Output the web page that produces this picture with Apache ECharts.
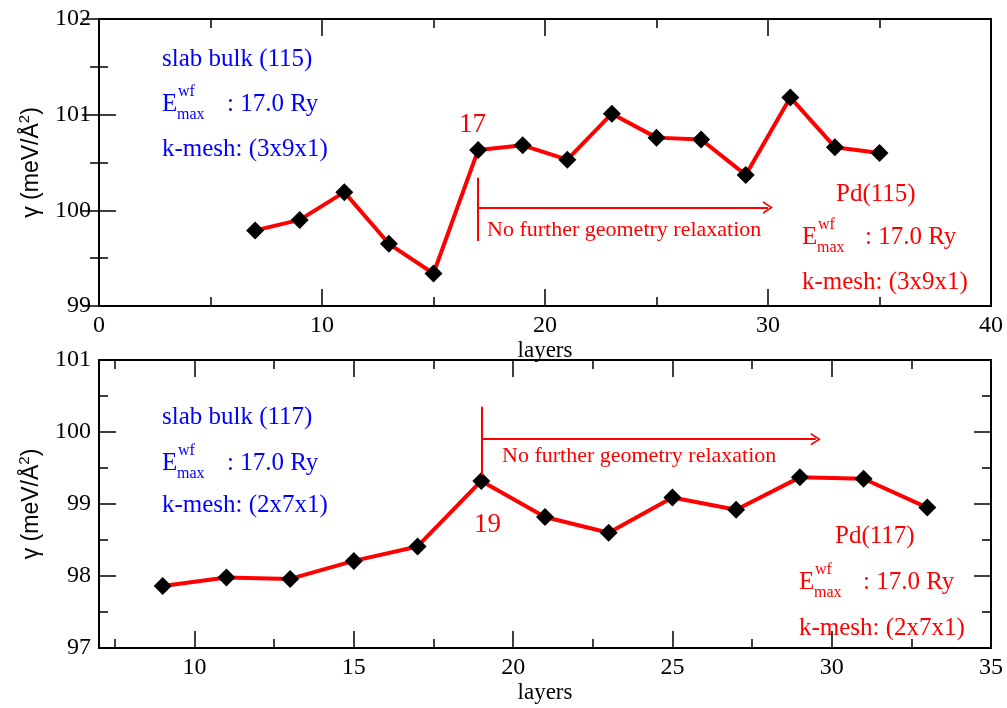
<!DOCTYPE html>
<html>
<head>
<meta charset="utf-8">
<script src="https://cdn.jsdelivr.net/npm/echarts@6/dist/echarts.min.js"></script>
<style>
html,body{margin:0;padding:0;background:#fff;}
#chart{width:1007px;height:708px;}
</style>
</head>
<body>
<div id="chart"></div>
<script>
// ---- data ----
const topLayers = [7, 9, 11, 13, 15, 17, 19, 21, 23, 25, 27, 29, 31, 33, 35];
const topGamma  = [99.79, 99.90, 100.19, 99.65, 99.34, 100.63, 100.68, 100.53, 101.01, 100.76, 100.74, 100.37, 101.18, 100.66, 100.60];
const botLayers = [9, 11, 13, 15, 17, 19, 21, 23, 25, 27, 29, 31, 33];
const botGamma  = [97.86, 97.98, 97.96, 98.21, 98.41, 99.32, 98.82, 98.60, 99.09, 98.92, 99.37, 99.35, 98.95];
// ---- ticks ----
const topXMajor = [0, 10, 20, 30, 40];
const topXMinor = [5, 15, 25, 35];
const topYMajor = [99, 100, 101, 102];
const topYMinor = [99.5, 100.5, 101.5];
const botXMajor = [10, 15, 20, 25, 30, 35];
const botXMinor = [7.5, 12.5, 17.5, 22.5, 27.5, 32.5];
const botYMajor = [97, 98, 99, 100, 101];
const botYMinor = [97.5, 98.5, 99.5, 100.5];
const yName = '{a|γ (meV/Å}{s|2}{a|)}';
const xName = 'layers';
// annotations (data units)
const topMarkLayer = 17, topVLine = [99.68, 100.34], topArrowY = 100.03, topArrowEnd = 30;
const botMarkLayer = 19, botVLine = [99.40, 100.35], botArrowY = 99.90, botArrowEnd = 29.5;

const SERIF = '"Liberation Serif", "Times New Roman", serif';
const SANS = '"Liberation Sans", Arial, sans-serif';
const RED = '#ff0000', BLUE = '#0000ff';

function pairs(xs, ys) { return xs.map((x, i) => [x, ys[i]]); }

const MAJ = 17, MIN = 9;
const labelStyle = { show: true, color: '#000', fontFamily: SERIF, fontSize: 24, margin: 8 };

function ax(grid, pos, min, max, ticks, len, extra) {
  return Object.assign({
    type: 'value', gridIndex: grid, position: pos, min: min, max: max,
    axisLine: { show: false },
    axisTick: { show: true, inside: true, length: len, customValues: ticks, lineStyle: { color: '#000', width: 1.5 } },
    minorTick: { show: false },
    axisLabel: { show: false },
    splitLine: { show: false }
  }, extra || {});
}
function axisSet(grid, isX, min, max, major, minor, nameText) {
  const p1 = isX ? 'bottom' : 'left', p2 = isX ? 'top' : 'right';
  const main = ax(grid, p1, min, max, major, MAJ, {
    axisLabel: Object.assign({ customValues: major }, labelStyle),
    name: nameText, nameLocation: 'middle',
    nameGap: isX ? 33 : 52,
    nameTextStyle: isX
      ? { color: '#000', fontFamily: SERIF, fontSize: 23 }
      : { color: '#000', rich: {
          a: { fontFamily: SANS, fontSize: 23, color: '#000', lineHeight: 30 },
          s: { fontFamily: SANS, fontSize: 15, color: '#000', verticalAlign: 'top', lineHeight: 30 } } }
  });
  return [main,
    ax(grid, p1, min, max, minor, MIN),
    ax(grid, p2, min, max, major, MAJ),
    ax(grid, p2, min, max, minor, MIN)];
}

const arrowSym = 'path://M0,12 L6,0 L12,12 L10.2,12 L6,3.6 L1.8,12 Z';

function markLines(layer, vline, ay, aend) {
  return {
    silent: true,
    symbol: ['none', 'none'],
    label: { show: false },
    lineStyle: { color: RED, width: 2, type: 'solid' },
    emphasis: { disabled: true },
    data: [
      [{ coord: [layer, vline[0]], symbol: 'none' }, { coord: [layer, vline[1]], symbol: 'none' }],
      [{ coord: [layer, ay], symbol: 'none' }, { coord: [aend, ay], symbol: arrowSym, symbolSize: [13, 10] }]
    ]
  };
}

function txt(text, x, y, color, size, family) {
  return { type: 'text', x: x, y: y, silent: true,
    style: { text: text, fill: color, fontSize: size, fontFamily: family || SERIF, align: 'left', verticalAlign: 'middle' } };
}
function eBlock(x, y, color, colonX) {
  return [
    txt('E', x, y, color, 25),
    txt('wf', x + 16, y - 12, color, 16),
    txt('max', x + 15, y + 11, color, 16),
    txt(': 17.0 Ry', colonX, y, color, 25)
  ];
}

const graphics = [].concat(
  [txt('slab bulk (115)', 162, 59, BLUE, 25)],
  eBlock(162, 104, BLUE, 227),
  [txt('k-mesh: (3x9x1)', 162, 149, BLUE, 25)],
  [txt('Pd(115)', 836, 194, RED, 25)],
  eBlock(802, 237, RED, 865),
  [txt('k-mesh: (3x9x1)', 802, 282, RED, 25)],
  [txt('17', 459, 125, RED, 27)],
  [txt('No further geometry relaxation', 487, 230, RED, 22)],

  [txt('slab bulk (117)', 162, 417, BLUE, 25)],
  eBlock(162, 463, BLUE, 227),
  [txt('k-mesh: (2x7x1)', 162, 505, BLUE, 25)],
  [txt('Pd(117)', 835, 536, RED, 25)],
  eBlock(799, 582, RED, 863),
  [txt('k-mesh: (2x7x1)', 799, 628, RED, 25)],
  [txt('19', 474, 525, RED, 27)],
  [txt('No further geometry relaxation', 502, 456, RED, 22)]
);

const option = {
  animation: false,
  backgroundColor: '#fff',
  grid: [
    { left: 99, right: 16, top: 19, height: 287, show: true, borderColor: '#000', borderWidth: 2, backgroundColor: 'transparent' },
    { left: 99, right: 16, top: 360, height: 288, show: true, borderColor: '#000', borderWidth: 2, backgroundColor: 'transparent' }
  ],
  xAxis: [].concat(
    axisSet(0, true, 0, 40, topXMajor, topXMinor, xName),
    axisSet(1, true, 7, 35, botXMajor, botXMinor, xName)
  ),
  yAxis: [].concat(
    axisSet(0, false, 99, 102, topYMajor, topYMinor, yName),
    axisSet(1, false, 97, 101, botYMajor, botYMinor, yName)
  ),
  series: [
    { type: 'line', xAxisIndex: 0, yAxisIndex: 0, data: pairs(topLayers, topGamma),
      symbol: 'diamond', symbolSize: 18, showAllSymbol: true,
      lineStyle: { color: RED, width: 4 }, itemStyle: { color: '#000' },
      markLine: markLines(topMarkLayer, topVLine, topArrowY, topArrowEnd), z: 3 },
    { type: 'line', xAxisIndex: 4, yAxisIndex: 4, data: pairs(botLayers, botGamma),
      symbol: 'diamond', symbolSize: 18, showAllSymbol: true,
      lineStyle: { color: RED, width: 4 }, itemStyle: { color: '#000' },
      markLine: markLines(botMarkLayer, botVLine, botArrowY, botArrowEnd), z: 3 }
  ],
  graphic: graphics
};

const chart = echarts.init(document.getElementById('chart'), null, { renderer: 'canvas' });
chart.setOption(option);
</script>
</body>
</html>
